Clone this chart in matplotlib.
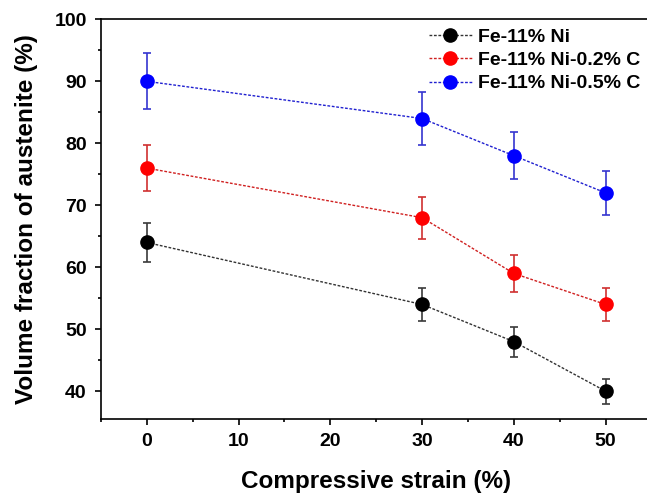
import matplotlib
matplotlib.use("Agg")
import matplotlib.pyplot as plt
from matplotlib.ticker import MultipleLocator

plt.rcParams['font.family'] = ['Liberation Sans', 'DejaVu Sans']
plt.rcParams['font.weight'] = 'bold'

strain = [0, 30, 40, 50]

labels = ["Fe-11% Ni", "Fe-11% Ni-0.2% C", "Fe-11% Ni-0.5% C"]
fe_ni = [64, 54, 48, 40]
fe_ni_err = [3.2, 2.7, 2.4, 2.0]
fe_ni_c02 = [76, 68, 59, 54]
fe_ni_c02_err = [3.7, 3.4, 3.0, 2.7]
fe_ni_c05 = [90, 84, 78, 72]
fe_ni_c05_err = [4.5, 4.2, 3.8, 3.6]

series = [
    (fe_ni, fe_ni_err, "#000000", "#3a3a3a", "#333333"),
    (fe_ni_c02, fe_ni_c02_err, "#ff0000", "#d03030", "#d02020"),
    (fe_ni_c05, fe_ni_c05_err, "#0000ff", "#3535d0", "#2020d0"),
]

fig = plt.figure(figsize=(6.47, 4.96), dpi=100)
ax = fig.add_axes([0.1560, 0.155, 0.851, 0.806])

for (vals, errs, mcol, ecol, lcol), lab in zip(series, labels):
    ax.errorbar(strain, vals, yerr=errs, fmt='none', ecolor=ecol,
                elinewidth=1.2, capsize=3.2, capthick=1.2, zorder=2)
    ax.plot(strain, vals, linestyle=(0, (2, 1.2)), color=lcol, linewidth=1.0,
            marker='o', markersize=9.5, markerfacecolor=mcol,
            markeredgecolor=mcol, label=lab, zorder=3)

ax.set_xlim(-5, 55)
ax.set_ylim(35.5, 100)
ax.xaxis.set_major_locator(MultipleLocator(10))
ax.xaxis.set_minor_locator(MultipleLocator(5))
ax.yaxis.set_minor_locator(MultipleLocator(5))
ax.set_yticks([40, 50, 60, 70, 80, 90, 100])

ax.tick_params(which='major', direction='out', length=4.2, width=1.2,
               labelsize=14, pad=6)
ax.tick_params(which='minor', direction='out', length=2.5, width=1.2)
for lab in ax.get_xticklabels() + ax.get_yticklabels():
    lab.set_fontweight('bold')
for sp in ax.spines.values():
    sp.set_linewidth(1.2)

ax.set_xlabel("Compressive strain (%)", fontsize=17.5, fontweight='bold', labelpad=14)
ax.set_ylabel("Volume fraction of austenite (%)", fontsize=17.5, fontweight='bold', labelpad=12)

leg = ax.legend(loc='upper left', bbox_to_anchor=(429 / 647, 1 - 28 / 496),
                bbox_transform=fig.transFigure, frameon=False,
                prop={'size': 14, 'weight': 'bold'}, handlelength=2.2,
                handletextpad=0.3, labelspacing=0.3, borderaxespad=0,
                borderpad=0)

fig.savefig("out.png", dpi=100)
